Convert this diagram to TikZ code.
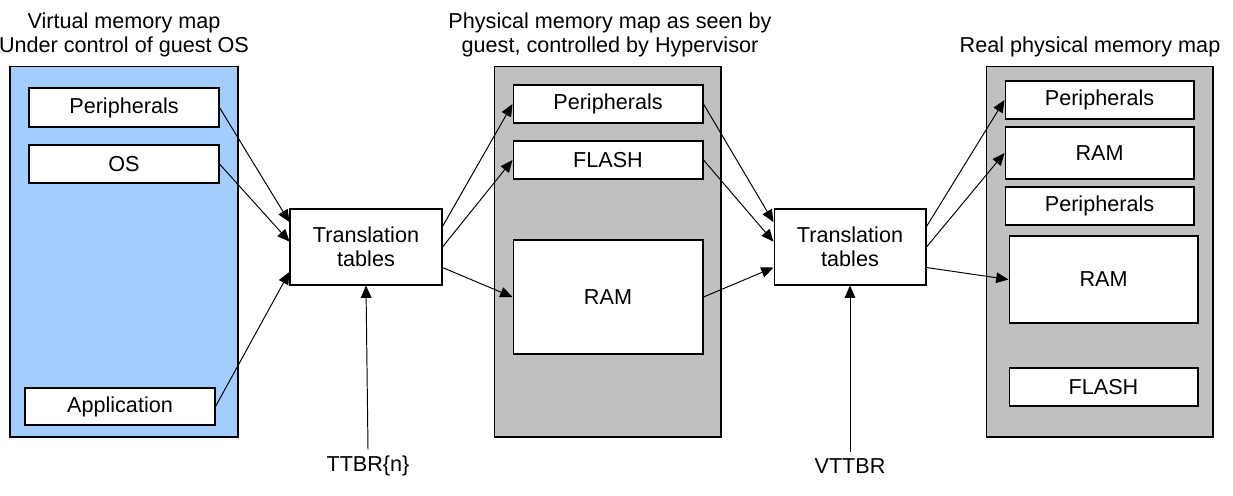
\documentclass[tikz,border=0pt]{standalone}
\usepackage{fontspec}
\setmainfont{Liberation Sans}
\usepackage{tikz}
\usetikzlibrary{arrows.meta}

\definecolor{vblue}{RGB}{163,204,255}
\definecolor{pgray}{RGB}{192,192,192}

\begin{document}
\begin{tikzpicture}[
  x=0.02cm, y=-0.02cm,
  panel/.style={draw, line width=0.6pt, minimum width=4.54cm, minimum height=7.42cm, inner sep=0pt},
  region/.style={draw, line width=0.6pt, fill=white, minimum width=3.8cm, inner sep=0pt,
                 font=\fontsize{12.3}{13.8}\selectfont},
  ttbox/.style={draw, line width=0.6pt, fill=white, minimum width=3.04cm, minimum height=1.52cm,
                inner sep=0pt, align=center, font=\fontsize{12.3}{13.8}\selectfont},
  title/.style={align=center, inner sep=0pt, font=\fontsize{12.3}{13.8}\selectfont},
  arrow/.style={-{Triangle[length=7pt,width=6pt]}, line width=0.55pt}
]
  \useasboundingbox (0,0) rectangle (1233,495);

  % guest virtual map
  \node[title] (vtitle) at (124,35) {Virtual memory map\\Under control of guest OS};
  \node[panel, fill=vblue, minimum width=4.56cm] (vpanel) at (124,251.5) {};
  \node[region, minimum height=0.78cm] (vperiph) at (124,107.5) {Peripherals};
  \node[region, minimum height=0.76cm] (vos) at (124,164) {OS};
  \node[region, minimum height=0.74cm] (vapp) at (120,406.5) {Application};

  \node[ttbox] (tt1) at (366,247) {Translation\\tables};
  \node[title] (ttbr) at (368,466) {TTBR\{n\}};

  % intermediate physical map
  \node[title] (gtitle) at (610,35) {Physical memory map as seen by\\guest, controlled by Hypervisor};
  \node[panel, fill=pgray] (gpanel) at (607.5,251.5) {};
  \node[region, minimum height=0.76cm] (gperiph) at (608,104) {Peripherals};
  \node[region, minimum height=0.76cm] (gflash) at (608,160) {FLASH};
  \node[region, minimum height=2.28cm] (gram) at (608,297) {RAM};

  \node[ttbox] (tt2) at (850,247) {Translation\\tables};
  \node[title] (vttbr) at (850,466) {VTTBR};

  % real physical map
  \node[title] (rtitle) at (1090,47) {Real physical memory map};
  \node[panel, fill=pgray] (rpanel) at (1099.5,251.5) {};
  \node[region, minimum width=3.78cm, minimum height=0.76cm] (rperiph1) at (1099.5,100) {Peripherals};
  \node[region, minimum width=3.78cm, minimum height=1.04cm] (rram1) at (1099.5,153) {RAM};
  \node[region, minimum width=3.78cm, minimum height=0.76cm] (rperiph2) at (1099.5,206) {Peripherals};
  \node[region, minimum width=3.78cm, minimum height=1.74cm] (rram2) at (1103.5,279.5) {RAM};
  \node[region, minimum width=3.78cm, minimum height=0.76cm] (rflash) at (1103.5,387) {FLASH};

  % stage 1
  \draw[arrow] (vperiph.east) -- (tt1.162);
  \draw[arrow] (vos.east) -- (tt1.176);
  \draw[arrow] (vapp.east) -- (tt1.198);
  \draw[arrow] (tt1.15) -- (gperiph.west);
  \draw[arrow] (tt1.0) -- (gflash.west);
  \draw[arrow] (tt1.345) -- (gram.west);
  \draw[arrow] (ttbr.north) ++(0,-6) -- (tt1.south);

  % stage 2
  \draw[arrow] (gperiph.east) -- (tt2.162);
  \draw[arrow] (gflash.east) -- (tt2.176);
  \draw[arrow] (gram.east) -- (tt2.195);
  \draw[arrow] (tt2.15) -- (rperiph1.west);
  \draw[arrow] (tt2.0) -- (rram1.west);
  \draw[arrow] (tt2.345) -- (rram2.west);
  \draw[arrow] (vttbr.north) ++(0,-6) -- (tt2.south);
\end{tikzpicture}
\end{document}
